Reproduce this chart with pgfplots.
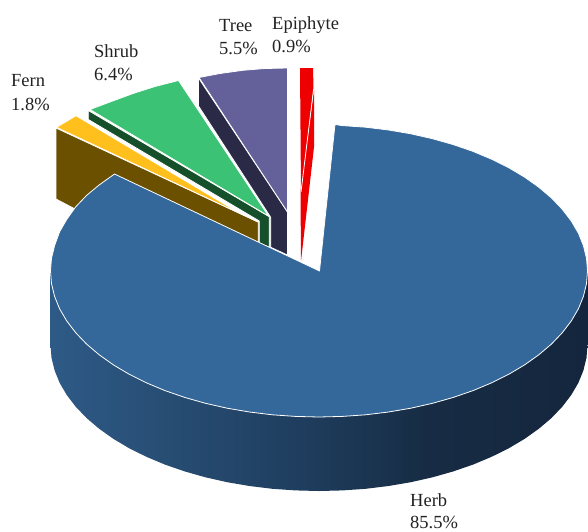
\documentclass[border=0pt]{standalone}
\usepackage{pgfplots}
\pgfplotsset{compat=1.18}
\usepackage{fontspec}
\setmainfont{Liberation Serif}

\definecolor{herbtop}{HTML}{34679A}
\definecolor{ferntop}{HTML}{FFC01E}
\definecolor{fernwall}{HTML}{6B5000}
\definecolor{shrubtop}{HTML}{3CC274}
\definecolor{shrubwall}{HTML}{15502B}
\definecolor{treetop}{HTML}{64619A}
\definecolor{treewall}{HTML}{2A2A47}
\definecolor{epitop}{HTML}{EE0000}
\definecolor{labeltext}{HTML}{222222}
\definecolor{rimA}{HTML}{2E5A87}
\definecolor{rimB}{HTML}{274D73}
\definecolor{rimC}{HTML}{1F3E5F}
\definecolor{rimD}{HTML}{172C44}
\definecolor{rimE}{HTML}{14263D}

\tikzset{
  slice/.style={draw=white, line width=0.8pt, line join=round},
  lab/.style={anchor=base west, inner sep=0pt, text=labeltext,
              font=\fontsize{18.5}{22}\selectfont},
}

% Rim of the large slice: lit on the left, falling into shadow on the right
\pgfdeclarehorizontalshading{herbwallshade}{100bp}{
  color(0bp)=(rimA);
  color(25bp)=(rimA);
  color(36bp)=(rimB);
  color(48bp)=(rimC);
  color(60bp)=(rimD);
  color(75bp)=(rimE);
  color(100bp)=(rimE)}

\begin{document}
\begin{tikzpicture}
\useasboundingbox (0,0) rectangle (588pt,531pt);
\begin{axis}[
  scale only axis, width=588pt, height=531pt,
  xmin=0, xmax=588, ymin=0, ymax=531, y dir=reverse,
  axis lines=none, clip=false,
]
% Epiphyte 0.9 %
\addplot[fill=epitop, draw=none] coordinates {(314,90) (314,147) (301,261) (300.5,192)} -- cycle;
\addplot[fill=epitop, draw=none] coordinates {(300,68) (313,68) (313.5,88) (301,192)} -- cycle;
\addplot[draw=white, line width=0.8pt] coordinates {(313.6,89) (301,192)};

% Tree 5.5 %
\addplot[fill=treewall, slice] coordinates {(198.5,78) (198.5,106) (270.7,217.3) (270.7,247.3) (287.5,255) (287.5,212)} -- cycle;
\addplot[fill=treetop, slice] coordinates {(199,77.5) (220,73.5) (243,70.3) (265,68.5) (287.5,68) (287.5,212)} -- cycle;

% Shrub 6.4 %
\addplot[fill=shrubwall, slice] coordinates {(88.3,110.5) (88.3,119.5) (259.3,221) (259.3,243) (269.3,247.5) (269.3,216.7)} -- cycle;
\addplot[fill=shrubtop, slice] coordinates {(90,109.5) (110,102) (133,93.5) (155,86.5) (178.5,80.5) (268.5,216)} -- cycle;

% Fern 1.8 %
\addplot[fill=fernwall, slice] coordinates {(56,128) (258.3,222) (258.3,255) (115,230) (56,199)} -- cycle;
\addplot[fill=ferntop, slice] coordinates {(56.5,127.3) (76,115.7) (238,212.2) (258,222)} -- cycle;

% Herb 85.5 %: rim first, then the top face over it
\addplot[shading=herbwallshade, draw=none] coordinates {
  (587.5,271) (587.5,345) (586.5,357.7) (583.4,370.4) (578.4,382.8) (571.3,394.9)
  (562.3,406.7) (551.5,418) (538.9,428.7) (524.7,438.8) (508.9,448.2) (491.6,456.8)
  (473,464.6) (453.3,471.4) (432.5,477.3) (410.8,482.2) (388.5,486) (365.6,488.8)
  (342.4,490.4) (319,491) (295.6,490.4) (272.4,488.8) (249.5,486) (227.2,482.2)
  (205.5,477.3) (184.7,471.4) (165,464.6) (146.4,456.8) (129.1,448.2) (113.3,438.8)
  (99.1,428.7) (86.5,418) (75.7,406.7) (66.7,394.9) (59.6,382.8) (54.6,370.4)
  (51.5,357.7) (50.5,345) (50.5,271)} -- cycle;
\addplot[fill=herbtop, slice] coordinates {
  (319.5,271) (335,124.5) (342.4,125.6) (365.6,127.2) (388.5,130) (410.8,133.8)
  (432.5,138.7) (453.3,144.6) (473,151.4) (491.6,159.2) (508.9,167.8) (524.7,177.2)
  (538.9,187.3) (551.5,198) (562.3,209.3) (571.3,221.1) (578.4,233.2) (583.4,245.6)
  (586.5,258.3) (587.5,271) (586.5,283.7) (583.4,296.4) (578.4,308.8) (571.3,320.9)
  (562.3,332.7) (551.5,344) (538.9,354.7) (524.7,364.8) (508.9,374.2) (491.6,382.8)
  (473,390.6) (453.3,397.4) (432.5,403.3) (410.8,408.2) (388.5,412) (365.6,414.8)
  (342.4,416.4) (319,417) (295.6,416.4) (272.4,414.8) (249.5,412) (227.2,408.2)
  (205.5,403.3) (184.7,397.4) (165,390.6) (146.4,382.8) (129.1,374.2) (113.3,364.8)
  (99.1,354.7) (86.5,344) (75.7,332.7) (66.7,320.9) (59.6,308.8) (54.6,296.4)
  (51.5,283.7) (50.5,271) (51.5,258.3) (54.6,245.6) (59.6,231.8) (66.7,219.5)
  (75.7,206.8) (86.5,195.5) (99.1,185) (114.5,174)} -- cycle;

% Labels
\node[lab] at (axis cs:11,86) {Fern};
\node[lab] at (axis cs:11,110) {1.8\%};
\node[lab] at (axis cs:94,57) {Shrub};
\node[lab] at (axis cs:94,80) {6.4\%};
\node[lab] at (axis cs:219,31) {Tree};
\node[lab] at (axis cs:219,54) {5.5\%};
\node[lab] at (axis cs:272,29) {Epiphyte};
\node[lab] at (axis cs:272,52) {0.9\%};
\node[lab] at (axis cs:410,506) {Herb};
\node[lab] at (axis cs:410,528.5) {85.5\%};
\end{axis}
\end{tikzpicture}
\end{document}
